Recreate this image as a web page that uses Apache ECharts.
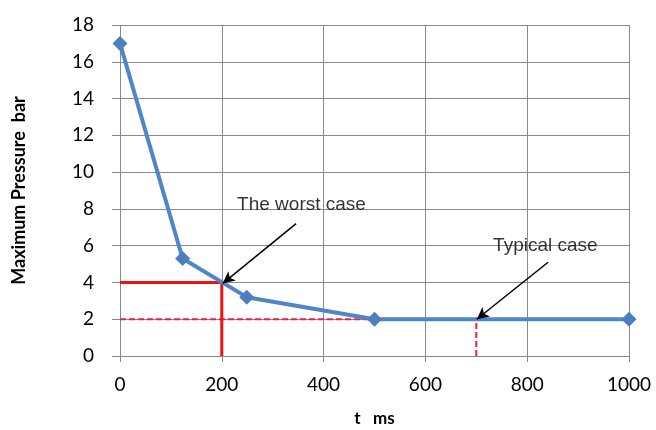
<!DOCTYPE html>
<html>
<head>
<meta charset="utf-8">
<script src="https://cdn.jsdelivr.net/npm/echarts@6/dist/echarts.min.js"></script>
<style>
  html, body { margin: 0; padding: 0; background: #fff; }
  #main { width: 656px; height: 430px; }
</style>
</head>
<body>
<div id="main"></div>
<script>
// measured points (t in ms, max pressure in bar)
const tValues = [0, 123, 249, 500, 1000];
const pressure = [17, 5.3, 3.2, 2.0, 2.0];

// guide lines
const worstGuide = [[0, 4], [200, 4], [200, 0]];
const typicalGuide = [[0, 2], [700, 2], [700, 0]];

// annotations: text anchor, arrow start, arrow tip
const worstText = [230, 8.2];
const worstArrow = [[346, 7.2], [202, 3.95]];
const typicalText = [733, 6.0];
const typicalArrow = [[841, 5.1], [701, 2.0]];

const chart = echarts.init(document.getElementById('main'));

const lineData = tValues.map((t, i) => [t, pressure[i]]);
const font = 'Lato, "Open Sans", sans-serif';
const noteFont = '"Liberation Sans", Arial, sans-serif';

function arrow(pts) {
    return {
        type: 'line',
        data: [],
        silent: true,
        markLine: {
            silent: true,
            symbol: ['none', 'arrow'],
            symbolSize: [9, 12],
            animation: false,
            label: { show: false },
            lineStyle: { color: '#000', width: 1.5, type: 'solid' },
            data: [[{ coord: pts[0] }, { coord: pts[1] }]]
        }
    };
}

function note(pos, text) {
    return {
        type: 'scatter',
        symbolSize: 0,
        silent: true,
        data: [pos],
        label: {
            show: true,
            position: 'right',
            distance: 0,
            formatter: text,
            color: '#000',
            fontSize: 19,
            fontFamily: noteFont
        }
    };
}

const option = {
    animation: false,
    backgroundColor: '#fff',
    grid: { left: 120, right: 27, top: 25, bottom: 74, outerBoundsMode: 'none' },
    xAxis: {
        type: 'value',
        min: 0, max: 1000, interval: 200,
        name: 't   ms',
        nameLocation: 'middle',
        nameGap: 54,
        nameTextStyle: { fontSize: 17, fontWeight: 'bold', color: '#000', fontFamily: font },
        axisLine: { show: true, lineStyle: { color: '#888', width: 1 } },
        axisTick: { show: true, length: 6, lineStyle: { color: '#888' } },
        axisLabel: { fontSize: 19, color: '#000', margin: 19, fontFamily: font, formatter: v => String(v) },
        splitLine: { show: true, lineStyle: { color: '#8a8a8a', width: 1 } }
    },
    yAxis: {
        type: 'value',
        min: 0, max: 18, interval: 2,
        name: 'Maximum Pressure  bar',
        nameLocation: 'middle',
        nameGap: 92,
        nameTextStyle: { fontSize: 18, fontWeight: 'bold', color: '#000', fontFamily: font },
        axisLine: { show: false },
        axisTick: { show: true, length: 8, lineStyle: { color: '#888' } },
        axisLabel: { fontSize: 19, color: '#000', margin: 26, fontFamily: font },
        splitLine: { show: true, lineStyle: { color: '#8a8a8a', width: 1 } }
    },
    series: [
        {
            type: 'line',
            data: typicalGuide,
            symbol: 'none',
            lineStyle: { color: '#f0204a', width: 2, type: [6, 3] },
            z: 2
        },
        {
            type: 'line',
            data: worstGuide,
            symbol: 'none',
            lineStyle: { color: '#ee1111', width: 3 },
            z: 2
        },
        {
            type: 'line',
            data: lineData,
            smooth: false,
            symbol: 'diamond',
            symbolSize: 15,
            itemStyle: { color: '#4d7fbd' },
            lineStyle: { color: '#4f86c8', width: 4 },
            z: 3
        },
        arrow(worstArrow),
        arrow(typicalArrow),
        note(worstText, 'The worst case'),
        note(typicalText, 'Typical case')
    ]
};

chart.setOption(option);
</script>
</body>
</html>
